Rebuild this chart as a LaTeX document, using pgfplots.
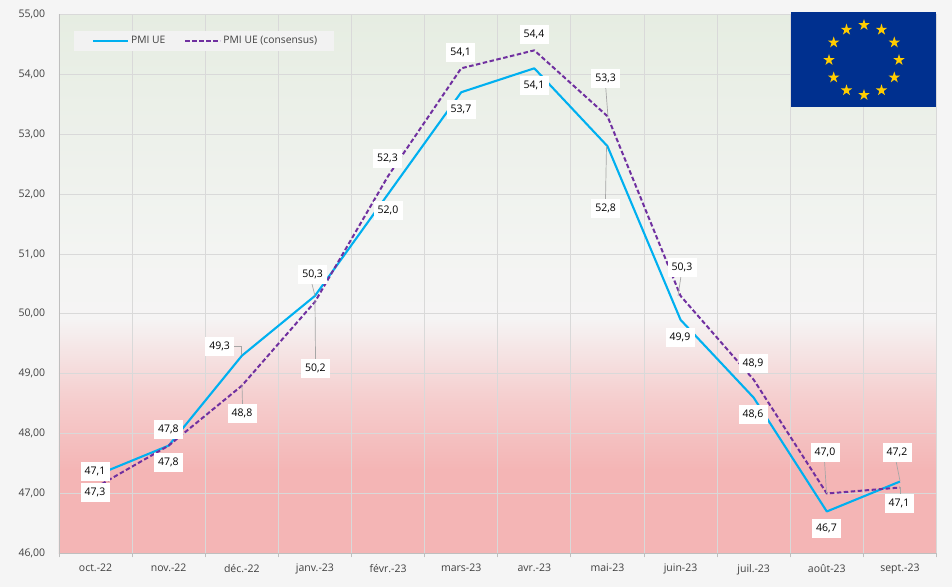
\documentclass[border=0pt]{standalone}
\usepackage{pgfplots}
\pgfplotsset{compat=1.18}
\usepackage{fontspec}
\setmainfont{Open Sans}
\usetikzlibrary{shapes.geometric}
\definecolor{pagebg}{HTML}{F5F5F5}
\definecolor{gridc}{HTML}{D9D9D9}
\definecolor{axc}{HTML}{BFBFBF}
\definecolor{txt}{HTML}{404040}
\definecolor{bluel}{HTML}{00B0F0}
\definecolor{purp}{HTML}{7030A0}
\definecolor{bgred}{HTML}{F4B5B5}
\definecolor{bgmid}{HTML}{F5CDCD}
\definecolor{bgwh}{HTML}{F5F4F4}
\definecolor{bgw}{HTML}{F3F4F2}
\definecolor{bggreen}{HTML}{E6EDE2}
\definecolor{leader}{HTML}{A6A6A6}
\definecolor{flagblue}{HTML}{00308F}
\definecolor{flagstar}{HTML}{FFCC00}
\pgfdeclareverticalshading{plotbg}{100bp}{color(0bp)=(bgred);color(32.7bp)=(bgred);color(39.2bp)=(bgmid);color(46.8bp)=(bgwh);color(53.1bp)=(bgw);color(75bp)=(bggreen);color(100bp)=(bggreen)}
\newcommand\lab[3]{\node[fill=white,text=black,inner sep=0pt,minimum width=29bp,minimum height=19bp,font=\fontsize{10.5bp}{13bp}\selectfont] at (#1bp,{(586.6-#2)*1bp}) {#3};}
\newcommand\lead[2]{\draw[leader,line width=0.7bp] #1 -- #2;}
\newcommand\pxy[2]{(#1bp,{(587-#2)*1bp})}
\begin{document}
\begin{tikzpicture}[x=1bp,y=1bp]
\fill[pagebg] (0,0) rectangle (952bp,587bp);
\begin{axis}[
  at={(59bp,33.6bp)},anchor=south west,
  scale only axis,width=877.5bp,height=539bp,
  xmin=-0.5,xmax=11.5,ymin=46,ymax=55,
  axis background/.style={shading=plotbg},
  axis x line*=bottom,axis y line*=left,
  axis line style={axc,line width=0.8bp,-},
  xtick={0,...,11},
  xticklabels={oct.-22,nov.-22,déc.-22,janv.-23,févr.-23,mars-23,avr.-23,mai-23,juin-23,juil.-23,août-23,sept.-23},
  minor xtick={-0.5,0.5,...,11.5},
  ytick={46,47,...,55},
  grid=none,
  xminorgrids=true,ymajorgrids=true,
  grid style={gridc,line width=0.8bp},
  minor grid style={gridc,line width=0.8bp},
  major x tick style={draw=none},
  minor x tick style={axc,line width=0.8bp},
  minor tick length=4bp,
  tick align=outside,
  major y tick style={draw=none},
  /pgf/number format/fixed,/pgf/number format/fixed zerofill,/pgf/number format/precision=2,/pgf/number format/use comma,/pgf/number format/assume math mode=true,
  tick label style={font=\fontsize{10.5bp}{13bp}\selectfont,text=txt},
  xticklabel style={yshift=-3bp},
  yticklabel style={xshift=-6bp},
  legend style={at={(0.0171,0.970)},anchor=north west,fill=black!5,draw=none,
    font=\fontsize{10.3bp}{13bp}\selectfont,text=txt,legend columns=2,
    inner xsep=15bp,inner ysep=3.5bp,
    /tikz/every even column/.style={column sep=14bp}},
  legend image code/.code={\path[draw=none] (0bp,0bp) -- (40bp,0bp);\draw[#1,overlay] (4bp,0bp) -- (39bp,0bp);},
  legend cell align=left,
]
\addplot[bluel,line width=2.1bp,line join=round] coordinates {(0,47.3)(1,47.8)(2,49.3)(3,50.3)(4,52.0)(5,53.7)(6,54.1)(7,52.8)(8,49.9)(9,48.6)(10,46.7)(11,47.2)};
\addlegendentry{PMI UE}
\addplot[purp,line width=2bp,dash pattern=on 4.5bp off 2.5bp,line join=round] coordinates {(0,47.1)(1,47.8)(2,48.8)(3,50.2)(4,52.3)(5,54.1)(6,54.4)(7,53.3)(8,50.3)(9,48.9)(10,47.0)(11,47.1)};
\addlegendentry{PMI UE (consensus)}
\end{axis}
% leader lines
\draw[leader,line width=0.7bp] \pxy{234}{346} -- \pxy{241}{346} -- \pxy{241}{355};
\lead{\pxy{242}{385}}{\pxy{242.5}{404}}
\lead{\pxy{312}{284}}{\pxy{315}{296}}
\lead{\pxy{315}{300}}{\pxy{315.5}{359}}
\lead{\pxy{605.7}{87}}{\pxy{608}{117}}
\lead{\pxy{606.5}{146}}{\pxy{605.5}{199}}
\lead{\pxy{681}{276}}{\pxy{678}{296}}
\lead{\pxy{824.5}{461}}{\pxy{826.5}{493}}
\lead{\pxy{896}{461}}{\pxy{900}{481}}
\lead{\pxy{900}{487}}{\pxy{900}{494}}
% data labels
\lab{95}{471}{47,1}\lab{95}{492}{47,3}
\lab{168.3}{429}{47,8}\lab{168.3}{462}{47,8}
\lab{219.7}{346}{49,3}\lab{242}{413}{48,8}
\lab{312.7}{274}{50,3}\lab{315.3}{368}{50,2}
\lab{387.5}{158}{52,3}\lab{388}{210}{52,0}
\lab{460.7}{52}{54,1}\lab{461}{109}{53,7}
\lab{534}{34}{54,4}\lab{534}{85}{54,1}
\lab{605.7}{78}{53,3}\lab{605.7}{208}{52,8}
\lab{682}{267}{50,3}\lab{680}{337}{49,9}
\lab{753}{363}{48,9}\lab{753}{414}{48,6}
\lab{825}{452}{47,0}\lab{826.5}{528}{46,7}
\lab{897}{452}{47,2}\lab{899}{503}{47,1}
% flag
\fill[flagblue] \pxy{791}{12} rectangle \pxy{936}{107};
\foreach \a in {0,30,...,330}
  \node[star,star points=5,star point ratio=2.618,fill=flagstar,inner sep=0pt,minimum size=12bp] at ({(864+35*cos(\a))*1bp},{(527+35*sin(\a))*1bp}) {};
\end{tikzpicture}
\end{document}
